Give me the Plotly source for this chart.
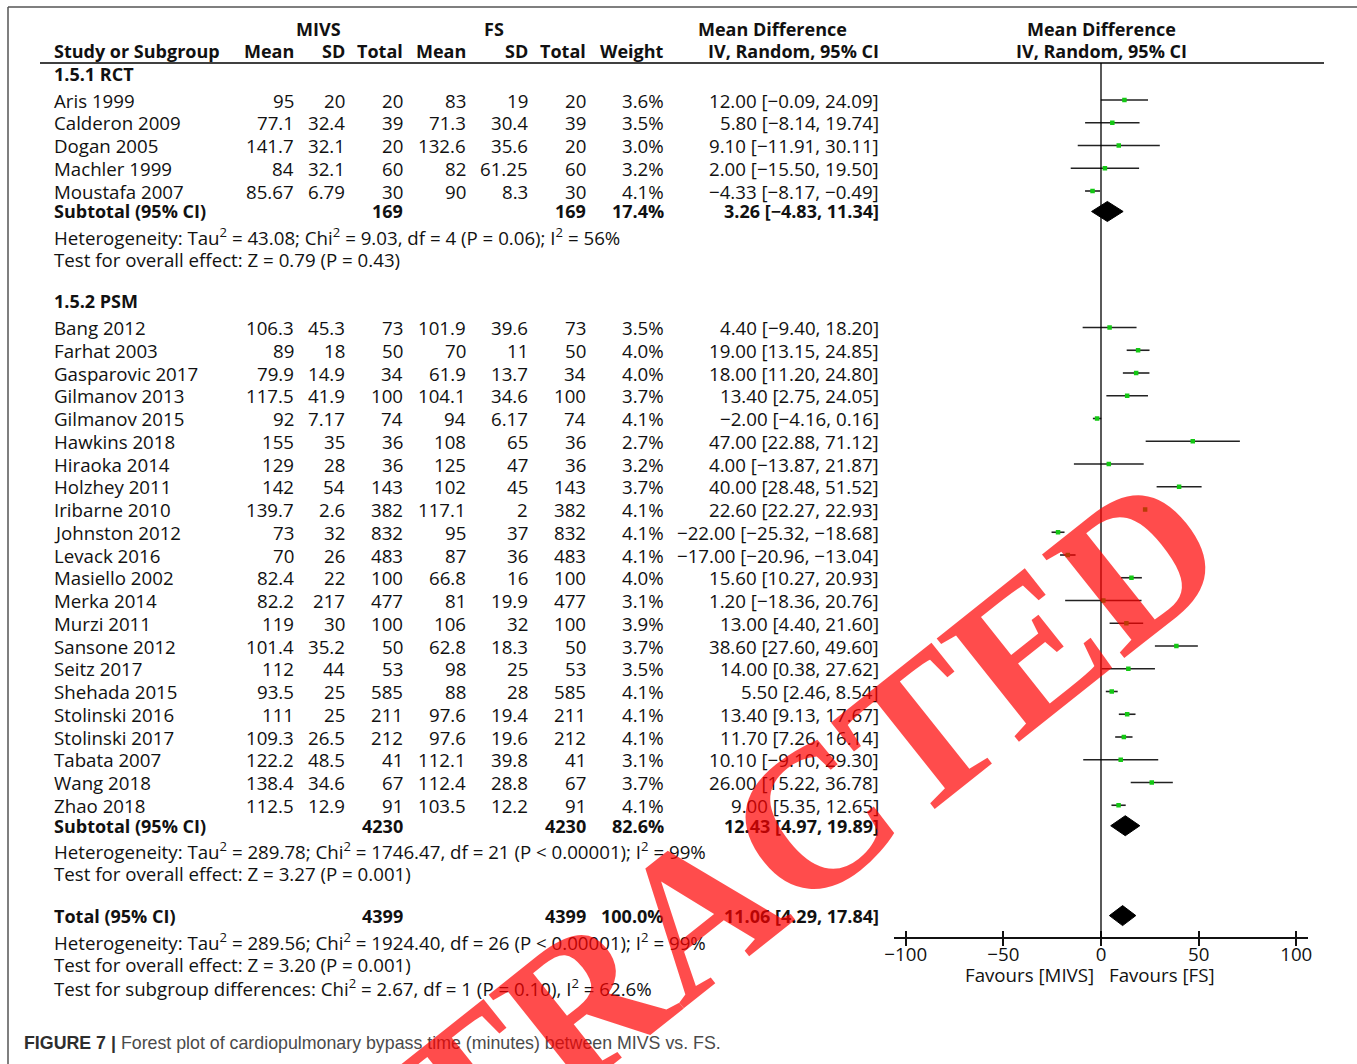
import plotly.graph_objects as go

# ---------------- data ----------------
rct_study = ["Aris 1999", "Calderon 2009", "Dogan 2005", "Machler 1999", "Moustafa 2007"]
rct_mivs_mean = ["95", "77.1", "141.7", "84", "85.67"]
rct_mivs_sd = ["20", "32.4", "32.1", "32.1", "6.79"]
rct_mivs_n = [20, 39, 20, 60, 30]
rct_fs_mean = ["83", "71.3", "132.6", "82", "90"]
rct_fs_sd = ["19", "30.4", "35.6", "61.25", "8.3"]
rct_fs_n = [20, 39, 20, 60, 30]
rct_weight = [3.6, 3.5, 3.0, 3.2, 4.1]
rct_md = [12.00, 5.80, 9.10, 2.00, -4.33]
rct_lo = [-0.09, -8.14, -11.91, -15.50, -8.17]
rct_hi = [24.09, 19.74, 30.11, 19.50, -0.49]

psm_study = ["Bang 2012", "Farhat 2003", "Gasparovic 2017", "Gilmanov 2013", "Gilmanov 2015",
             "Hawkins 2018", "Hiraoka 2014", "Holzhey 2011", "Iribarne 2010", "Johnston 2012",
             "Levack 2016", "Masiello 2002", "Merka 2014", "Murzi 2011", "Sansone 2012",
             "Seitz 2017", "Shehada 2015", "Stolinski 2016", "Stolinski 2017", "Tabata 2007",
             "Wang 2018", "Zhao 2018"]
psm_mivs_mean = ["106.3", "89", "79.9", "117.5", "92", "155", "129", "142", "139.7", "73", "70",
                 "82.4", "82.2", "119", "101.4", "112", "93.5", "111", "109.3", "122.2", "138.4", "112.5"]
psm_mivs_sd = ["45.3", "18", "14.9", "41.9", "7.17", "35", "28", "54", "2.6", "32", "26",
               "22", "217", "30", "35.2", "44", "25", "25", "26.5", "48.5", "34.6", "12.9"]
psm_mivs_n = [73, 50, 34, 100, 74, 36, 36, 143, 382, 832, 483, 100, 477, 100, 50, 53, 585, 211, 212, 41, 67, 91]
psm_fs_mean = ["101.9", "70", "61.9", "104.1", "94", "108", "125", "102", "117.1", "95", "87",
               "66.8", "81", "106", "62.8", "98", "88", "97.6", "97.6", "112.1", "112.4", "103.5"]
psm_fs_sd = ["39.6", "11", "13.7", "34.6", "6.17", "65", "47", "45", "2", "37", "36",
             "16", "19.9", "32", "18.3", "25", "28", "19.4", "19.6", "39.8", "28.8", "12.2"]
psm_fs_n = [73, 50, 34, 100, 74, 36, 36, 143, 382, 832, 483, 100, 477, 100, 50, 53, 585, 211, 212, 41, 67, 91]
psm_weight = [3.5, 4.0, 4.0, 3.7, 4.1, 2.7, 3.2, 3.7, 4.1, 4.1, 4.1, 4.0, 3.1, 3.9, 3.7, 3.5,
              4.1, 4.1, 4.1, 3.1, 3.7, 4.1]
psm_md = [4.40, 19.00, 18.00, 13.40, -2.00, 47.00, 4.00, 40.00, 22.60, -22.00, -17.00,
          15.60, 1.20, 13.00, 38.60, 14.00, 5.50, 13.40, 11.70, 10.10, 26.00, 9.00]
psm_lo = [-9.40, 13.15, 11.20, 2.75, -4.16, 22.88, -13.87, 28.48, 22.27, -25.32, -20.96,
          10.27, -18.36, 4.40, 27.60, 0.38, 2.46, 9.13, 7.26, -9.10, 15.22, 5.35]
psm_hi = [18.20, 24.85, 24.80, 24.05, 0.16, 71.12, 21.87, 51.52, 22.93, -18.68, -13.04,
          20.93, 20.76, 21.60, 49.60, 27.62, 8.54, 17.67, 16.14, 29.30, 36.78, 12.65]

# pooled estimates: [RCT subtotal, PSM subtotal, overall]
pooled_label = ["Subtotal (95% CI)", "Subtotal (95% CI)", "Total (95% CI)"]
pooled_n_mivs = [169, 4230, 4399]
pooled_n_fs = [169, 4230, 4399]
pooled_weight = [17.4, 82.6, 100.0]
pooled_md = [3.26, 12.43, 11.06]
pooled_lo = [-4.83, 4.97, 4.29]
pooled_hi = [11.34, 19.89, 17.84]

stats_text = [
    ["Heterogeneity: Tau<sup>2</sup> = 43.08; Chi<sup>2</sup> = 9.03, df = 4 (P = 0.06); I<sup>2</sup> = 56%",
     "Test for overall effect: Z = 0.79 (P = 0.43)"],
    ["Heterogeneity: Tau<sup>2</sup> = 289.78; Chi<sup>2</sup> = 1746.47, df = 21 (P < 0.00001); I<sup>2</sup> = 99%",
     "Test for overall effect: Z = 3.27 (P = 0.001)"],
    ["Heterogeneity: Tau<sup>2</sup> = 289.56; Chi<sup>2</sup> = 1924.40, df = 26 (P < 0.00001); I<sup>2</sup> = 99%",
     "Test for overall effect: Z = 3.20 (P = 0.001)",
     "Test for subgroup differences: Chi<sup>2</sup> = 2.67, df = 1 (P = 0.10), I<sup>2</sup> = 62.6%"],
]

x_ticks = [-100, -50, 0, 50, 100]

# ---------------- layout constants ----------------
W, H = 1357, 1064
ROW0, ROWH = 100.0, 22.75          # pixel centre of first study row, row pitch
FONT = "Open Sans"
FS = 18.7                          # regular table text
FSB = 18.0                         # bold table text
INK = "#111111"


def row_of(py):
    return (py - ROW0) / ROWH


def px(x):
    return x / W


def fmt(v, nd=2):
    s = f"{v:.{nd}f}"
    return s.replace("-", "\u2212")


def ci_text(m, lo, hi):
    return f"{fmt(m)} [{fmt(lo)}, {fmt(hi)}]"


# row positions
r_head1, r_head2, r_rule = -3.1, -2.15, row_of(63)
r_grp1 = row_of(74)
rct_rows = list(range(len(rct_study)))
r_sub1 = rct_rows[-1] + 0.9
r_het1 = r_sub1 + 1.1
r_grp2 = r_het1 + 2.85
psm_rows = [r_grp2 + 1.15 + i for i in range(len(psm_study))]
r_sub2 = psm_rows[-1] + 0.9
r_het2 = r_sub2 + 1.1
r_tot = r_het2 + 2.85
r_het3 = r_tot + 1.15
pooled_rows = [r_sub1, r_sub2, r_tot]
het_rows = [r_het1, r_het2, r_het3]
r_axis = row_of(938)
r_favours = row_of(974)
r_caption = row_of(1043)

# column anchors (pixel x)
X_STUDY = 52
COLS = {"mm": 296, "msd": 347, "mn": 405, "fm": 467.5, "fsd": 530, "fn": 588, "w": 666, "ci": 881}

ann = []


def txt(x, y, s, anchor="right", bold=False, size=None, color=INK, xref="paper"):
    if size is None:
        size = FSB if bold else FS
    if bold:
        s = f"<b>{s}</b>"
    ann.append(dict(x=x, y=y, xref=xref, yref="y", text=s, showarrow=False,
                    xanchor=anchor, yanchor="middle",
                    font=dict(family=FONT, size=size, color=color)))


# headers
txt(px(318), r_head1, "MIVS", "center", True)
txt(px(494.5), r_head1, "FS", "center", True)
txt(px(772), r_head1, "Mean Difference", "center", True)
txt(0, r_head1, "Mean Difference", "center", True, xref="x")
txt(px(X_STUDY), r_head2, "Study or Subgroup", "left", True)
for key, lab in [("mm", "Mean"), ("msd", "SD"), ("mn", "Total"), ("fm", "Mean"),
                 ("fsd", "SD"), ("fn", "Total"), ("w", "Weight"), ("ci", "IV, Random, 95% CI")]:
    txt(px(COLS[key]), r_head2, lab, bold=True)
txt(0, r_head2, "IV, Random, 95% CI", "center", True, xref="x")

txt(px(X_STUDY), r_grp1, "1.5.1 RCT", "left", True)
txt(px(X_STUDY), r_grp2, "1.5.2 PSM", "left", True)


def study_rows(rows, study, mm, msd, mn, fm, fsd, fn, w, md, lo, hi):
    for i, r in enumerate(rows):
        txt(px(X_STUDY), r, study[i], "left")
        txt(px(COLS["mm"]), r, mm[i])
        txt(px(COLS["msd"]), r, msd[i])
        txt(px(COLS["mn"]), r, str(mn[i]))
        txt(px(COLS["fm"]), r, fm[i])
        txt(px(COLS["fsd"]), r, fsd[i])
        txt(px(COLS["fn"]), r, str(fn[i]))
        txt(px(COLS["w"]), r, f"{w[i]:.1f}%")
        txt(px(COLS["ci"]), r, ci_text(md[i], lo[i], hi[i]))


study_rows(rct_rows, rct_study, rct_mivs_mean, rct_mivs_sd, rct_mivs_n, rct_fs_mean, rct_fs_sd,
           rct_fs_n, rct_weight, rct_md, rct_lo, rct_hi)
study_rows(psm_rows, psm_study, psm_mivs_mean, psm_mivs_sd, psm_mivs_n, psm_fs_mean, psm_fs_sd,
           psm_fs_n, psm_weight, psm_md, psm_lo, psm_hi)

for k, r in enumerate(pooled_rows):
    txt(px(X_STUDY), r, pooled_label[k], "left", True)
    txt(px(COLS["mn"]), r, str(pooled_n_mivs[k]), bold=True)
    txt(px(COLS["fn"]), r, str(pooled_n_fs[k]), bold=True)
    txt(px(COLS["w"]), r, f"{pooled_weight[k]:.1f}%", bold=True)
    txt(px(COLS["ci"]), r, ci_text(pooled_md[k], pooled_lo[k], pooled_hi[k]), bold=True)
    for j, line in enumerate(stats_text[k]):
        txt(px(X_STUDY), het_rows[k] + j, line, "left")

# favours labels
txt(0, r_favours, "Favours [MIVS]", "right", xref="x")
ann[-1]["xshift"] = -5
txt(0, r_favours, "Favours [FS]", "left", xref="x")
ann[-1]["xshift"] = 6

# caption
ann.append(dict(x=px(22), y=r_caption, xref="paper", yref="y", showarrow=False,
                xanchor="left", yanchor="middle",
                text="<b>FIGURE 7 |</b> <span style='color:#4a4a4a'>Forest plot of cardiopulmonary "
                     "bypass time (minutes) between MIVS vs. FS.</span>",
                font=dict(family="Liberation Sans Narrow, Arial Narrow, Liberation Sans", size=17.8,
                          color="#2e2e2e")))

# retraction stamp
ann.append(dict(x=px(697), y=1 - 911 / H, xref="paper", yref="paper", showarrow=False,
                xanchor="center", yanchor="middle", textangle=-38.5,
                text="RETRACTED",
                font=dict(family="Liberation Serif", size=202, weight="bold",
                          color="rgba(255,0,0,0.70)")))

# ---------------- traces ----------------
fig = go.Figure()

all_rows = rct_rows + psm_rows
all_md = rct_md + psm_md
all_lo = rct_lo + psm_lo
all_hi = rct_hi + psm_hi

cx, cy = [], []
for r, lo, hi in zip(all_rows, all_lo, all_hi):
    cx += [lo, hi, None]
    cy += [r, r, None]
fig.add_trace(go.Scatter(x=cx, y=cy, mode="lines", line=dict(color="#222222", width=1.6),
                         hoverinfo="skip", showlegend=False))
fig.add_trace(go.Scatter(x=all_md, y=all_rows, mode="markers",
                         marker=dict(symbol="square", size=4.5, color="#14c814", line=dict(width=0)),
                         showlegend=False))

DH = 0.44
for r, m, lo, hi in zip(pooled_rows, pooled_md, pooled_lo, pooled_hi):
    fig.add_trace(go.Scatter(x=[lo, m, hi, m, lo], y=[r, r - DH, r, r + DH, r], mode="lines",
                             fill="toself", fillcolor="black", line=dict(color="black", width=1),
                             showlegend=False, hoverinfo="skip"))

# line of no effect
fig.add_shape(type="line", xref="x", yref="y", x0=0, x1=0, y0=r_rule, y1=r_axis,
              line=dict(color="black", width=1.3))
# header rule
fig.add_shape(type="line", xref="paper", yref="y", x0=px(40), x1=px(1324), y0=r_rule, y1=r_rule,
              line=dict(color="black", width=1.5))
# panel frame (top and left edges)
fig.add_shape(type="line", xref="paper", yref="paper", x0=px(8), x1=1, y0=1 - 7 / H, y1=1 - 7 / H,
              line=dict(color="#555555", width=1.5))
fig.add_shape(type="line", xref="paper", yref="paper", x0=px(8), x1=px(8), y0=0, y1=1 - 7 / H,
              line=dict(color="#555555", width=1.5))

y_top, y_bot = row_of(0), row_of(H)
axis_pos = 1 - 938 / H
dom = [px(894), px(1308)]

fig.update_layout(
    width=W, height=H, margin=dict(l=0, r=0, t=0, b=0, autoexpand=False),
    paper_bgcolor="white", plot_bgcolor="rgba(0,0,0,0)",
    showlegend=False, annotations=ann,
    xaxis=dict(domain=dom, range=[-106, 106], anchor="free", position=axis_pos,
               showline=True, linecolor="#111111", linewidth=1.5,
               ticks="inside", ticklen=6, tickwidth=1.5, tickcolor="#111111",
               tickvals=x_ticks, ticktext=[fmt(v, 0) for v in x_ticks],
               tickfont=dict(family=FONT, size=FS, color=INK),
               showgrid=False, zeroline=False, automargin=False),
    xaxis2=dict(domain=dom, range=[-106, 106], anchor="free", position=axis_pos, overlaying="x",
                showline=False, ticks="outside", ticklen=7, tickwidth=1.5, tickcolor="#111111",
                tickvals=x_ticks, showticklabels=False, showgrid=False, zeroline=False,
                automargin=False),
    yaxis=dict(domain=[0, 1], range=[y_bot, y_top], visible=False, showgrid=False,
               zeroline=False, automargin=False),
)
# invisible trace to realise the overlay axis carrying the outer ticks
fig.add_trace(go.Scatter(x=[0], y=[r_axis], xaxis="x2", mode="markers",
                         marker=dict(opacity=0), hoverinfo="skip", showlegend=False))

fig.write_html("out.html")
